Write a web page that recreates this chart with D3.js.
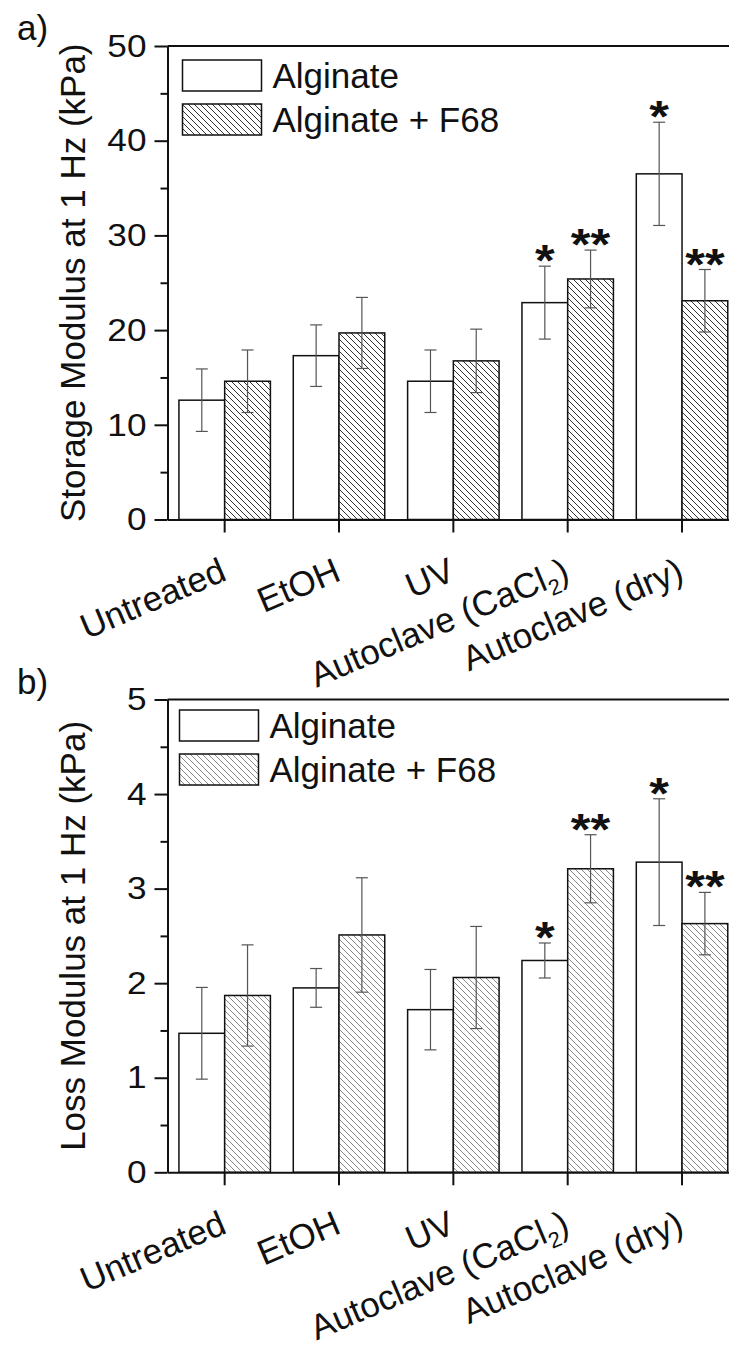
<!DOCTYPE html>
<html>
<head>
<meta charset="utf-8">
<script src="https://cdn.jsdelivr.net/npm/d3@7"></script>
<style>
  body { margin: 0; background: #fff; }
  text { font-family: "Liberation Sans", Arial, sans-serif; fill: #111; }
</style>
</head>
<body>
<div id="chart"></div>
<script>
// categories and series
const categories = ["Untreated", "EtOH", "UV", "Autoclave (CaCl2)", "Autoclave (dry)"];
const seriesNames = ["Alginate", "Alginate + F68"];

// storage modulus at 1 Hz (kPa)
const storageAlginate = [12.6, 17.3, 14.6, 22.9, 36.5];
const storageAlginateErr = [3.3, 3.25, 3.3, 3.85, 5.45];
const storageF68 = [14.6, 19.7, 16.75, 25.4, 23.1];
const storageF68Err = [3.3, 3.75, 3.35, 3.05, 3.3];

// loss modulus at 1 Hz (kPa)
const lossAlginate = [1.47, 1.95, 1.72, 2.24, 3.28];
const lossAlginateErr = [0.485, 0.205, 0.425, 0.185, 0.67];
const lossF68 = [1.87, 2.51, 2.06, 3.21, 2.63];
const lossF68Err = [0.535, 0.605, 0.54, 0.36, 0.33];

// significance marks
const starsAlginate = ["", "", "", "*", "*"];
const starsF68 = ["", "", "", "**", "**"];

// tick values
const storageTicks = [0, 10, 20, 30, 40, 50];
const storageMinor = [5, 15, 25, 35, 45];
const lossTicks = [0, 1, 2, 3, 4, 5];
const lossMinor = [0.5, 1.5, 2.5, 3.5, 4.5];

const W = 729, H = 1349;
const axisX = 167.5, plotRight = 739.2;
const stretch = 1.1; // tick numbers look a bit wide in the original

const svg = d3.select("#chart").append("svg")
    .attr("width", W)
    .attr("height", H);

const defs = svg.append("defs");
function addHatch(id, color, sw) {
    const p = defs.append("pattern")
        .attr("id", id)
        .attr("patternUnits", "userSpaceOnUse")
        .attr("width", 6).attr("height", 6);
    p.append("rect").attr("width", 6).attr("height", 6).attr("fill", "#fff");
    p.append("path")
        .attr("d", "M0,0L6,6M-1,5L1,7M5,-1L7,1")
        .attr("stroke", color)
        .attr("stroke-width", sw);
}
addHatch("hatchDark", "#333", 1);
addHatch("hatchLight", "#8a8a8a", 1);

const panels = [
    {
        letter: "a)", title: "Storage Modulus at 1 Hz (kPa)",
        alg: storageAlginate, algErr: storageAlginateErr,
        f68: storageF68, f68Err: storageF68Err,
        ticks: storageTicks, minor: storageMinor,
        top: 46, bottom: 519.5, hatch: "hatchDark",
        legendX: 15, legendY: 14, letterY: 40
    },
    {
        letter: "b)", title: "Loss Modulus at 1 Hz (kPa)",
        alg: lossAlginate, algErr: lossAlginateErr,
        f68: lossF68, f68Err: lossF68Err,
        ticks: lossTicks, minor: lossMinor,
        top: 699.5, bottom: 1172.3, hatch: "hatchLight",
        legendX: 12, legendY: 10.5, letterY: 694
    }
];

const x = d3.scaleBand()
    .domain(categories)
    .range([axisX, plotRight])
    .padding(0);
const barW = x.bandwidth() * 0.4;

panels.forEach(p => {
    const y = d3.scaleLinear()
        .domain([p.ticks[0], p.ticks[p.ticks.length - 1]])
        .range([p.bottom, p.top]);

    const g = svg.append("g");

    // panel letter
    g.append("text")
        .attr("x", 17).attr("y", p.letterY)
        .style("font-size", "35px")
        .text(p.letter);

    // bars
    const rows = categories.map((c, i) => ({
        cat: c,
        alg: p.alg[i], algErr: p.algErr[i], algStar: starsAlginate[i],
        f68: p.f68[i], f68Err: p.f68Err[i], f68Star: starsF68[i]
    }));

    const series = [
        {key: "alg", fill: "#fff", dx: -barW},
        {key: "f68", fill: "url(#" + p.hatch + ")", dx: 0}
    ];

    series.forEach(s => {
        g.append("g").selectAll("rect")
            .data(rows)
            .enter()
            .append("rect")
            .attr("x", d => x(d.cat) + x.bandwidth() / 2 + s.dx)
            .attr("y", d => y(d[s.key]))
            .attr("width", barW)
            .attr("height", d => y(0) - y(d[s.key]))
            .attr("fill", s.fill)
            .attr("stroke", "#111")
            .attr("stroke-width", 1.5);
    });

    // error bars
    series.forEach(s => {
        const eg = g.append("g")
            .attr("stroke", "#555")
            .attr("stroke-width", 1.2);
        rows.forEach(d => {
            const cx = x(d.cat) + x.bandwidth() / 2 + s.dx + barW / 2;
            const v = d[s.key], e = d[s.key + "Err"];
            eg.append("line")
                .attr("x1", cx).attr("x2", cx)
                .attr("y1", y(v + e)).attr("y2", y(v - e));
            [v + e, v - e].forEach(t => {
                eg.append("line")
                    .attr("x1", cx - 6).attr("x2", cx + 6)
                    .attr("y1", y(t)).attr("y2", y(t));
            });
        });
        // stars
        g.append("g").selectAll("text")
            .data(rows.filter(d => d[s.key + "Star"] !== ""))
            .enter()
            .append("text")
            .attr("text-anchor", "middle")
            .attr("transform", d => {
                const cx = x(d.cat) + x.bandwidth() / 2 + s.dx + barW / 2;
                const ty = y(d[s.key] + d[s.key + "Err"]) - 8 + 0.41 * 44;
                return "translate(" + cx + "," + ty + ") scale(1.15,1)";
            })
            .style("font-size", "44px")
            .style("font-weight", "bold")
            .text(d => d[s.key + "Star"]);
    });

    // left axis, major and minor ticks
    const yAxis = g.append("g")
        .attr("transform", "translate(" + axisX + ",0)")
        .call(d3.axisLeft(y).tickValues(p.ticks).tickSize(13).tickSizeOuter(0).tickPadding(6)
            .tickFormat(d3.format("d")));
    yAxis.select(".domain").attr("stroke", "#111").attr("stroke-width", 2);
    yAxis.selectAll(".tick line").attr("stroke", "#111").attr("stroke-width", 2);
    yAxis.selectAll(".tick text")
        .attr("fill", "#111")
        .style("font-size", "32px")
        .style("font-family", "'Liberation Sans', Arial, sans-serif")
        .attr("x", -21 / stretch)
        .attr("transform", "scale(" + stretch + ",1)");

    const yMinor = g.append("g")
        .attr("transform", "translate(" + axisX + ",0)")
        .call(d3.axisLeft(y).tickValues(p.minor).tickSize(7).tickSizeOuter(0).tickFormat(""));
    yMinor.select(".domain").remove();
    yMinor.selectAll(".tick line").attr("stroke", "#111").attr("stroke-width", 2);

    // top border
    g.append("line")
        .attr("x1", axisX).attr("x2", W + 10)
        .attr("y1", y.range()[1]).attr("y2", y.range()[1])
        .attr("stroke", "#111").attr("stroke-width", 2);

    // bottom axis
    const xAxis = g.append("g")
        .attr("transform", "translate(0," + y(0) + ")")
        .call(d3.axisBottom(x).tickSize(13).tickSizeOuter(0).tickFormat(""));
    xAxis.select(".domain").attr("stroke", "#111").attr("stroke-width", 2);
    xAxis.selectAll(".tick line").attr("stroke", "#111").attr("stroke-width", 2);

    // rotated category labels
    categories.forEach(c => {
        const t = g.append("text")
            .attr("text-anchor", "end")
            .attr("transform", "translate(" + (x(c) + x.bandwidth() / 2 + 3.5) + "," + (y(0) + 60) + ") rotate(-23)")
            .style("font-size", "35px");
        const m = c.match(/^(.*CaCl)2(\))$/);
        if (m) {
            t.append("tspan").text(m[1]);
            t.append("tspan").attr("dy", 8).style("font-size", "22px").text("2");
            t.append("tspan").attr("dy", -8).text(m[2]);
        } else {
            t.text(c);
        }
    });

    // y axis title
    g.append("text")
        .attr("text-anchor", "middle")
        .attr("transform", "translate(85," + ((p.top + p.bottom) / 2) + ") rotate(-90)")
        .style("font-size", "35px")
        .text(p.title);

    // legend
    const lx = axisX + p.legendX, ly = p.top + p.legendY;
    const fills = ["#fff", "url(#" + p.hatch + ")"];
    seriesNames.forEach((name, i) => {
        g.append("rect")
            .attr("x", lx).attr("y", ly + i * 44)
            .attr("width", 79).attr("height", 31)
            .attr("fill", fills[i])
            .attr("stroke", "#111").attr("stroke-width", 1.5);
        g.append("text")
            .attr("x", lx + 90).attr("y", ly + i * 44 + 28)
            .style("font-size", "35px")
            .text(name);
    });
});
</script>
</body>
</html>
